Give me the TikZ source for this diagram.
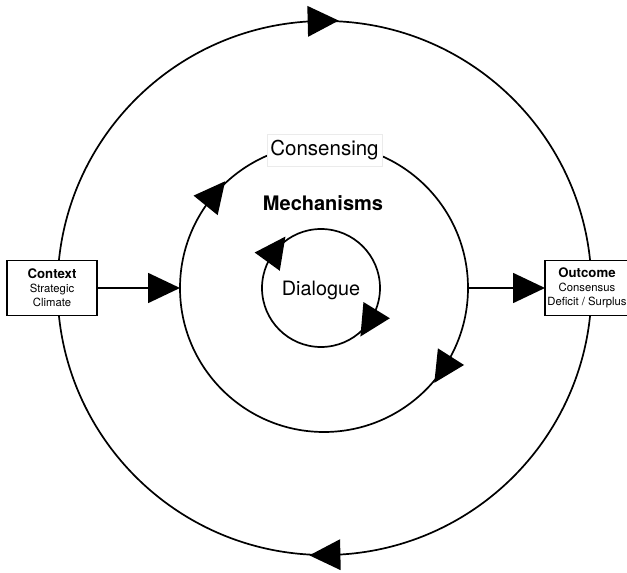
\documentclass[tikz,border=0pt]{standalone}
\usepackage{fontspec}
\setmainfont{TeX Gyre Heros}
\usetikzlibrary{arrows.meta}
% clockwise arrowhead sitting on a ring: #1 ring node, #2 radius, #3 angle
\newcommand\cwhead[3]{%
  \fill[shift={(#1.center)}, rotate=#3]
    (#2,-20.7) -- (#2+15.5,10.3) -- (#2-15.5,10.3) -- cycle;}
\begin{document}
\begin{tikzpicture}[x=1pt,y=1pt,
  ring/.style={circle, draw, line width=1.7pt, inner sep=0pt, outer sep=0pt},
  sidebox/.style={draw, line width=1.8pt, fill=white, minimum width=90pt,
    minimum height=55pt, inner sep=0pt, outer sep=0pt},
  boxtext/.style={align=center, inner sep=0pt,
    font=\fontsize{11.3}{13.8}\selectfont},
  flow/.style={line width=1.7pt, -{Triangle[length=32pt,width=30pt]}},
  biglabel/.style={font=\fontsize{20}{24}\selectfont, anchor=base}
]
\useasboundingbox (0,0) rectangle (627,573);
\clip (0,0) rectangle (627,573);

% three nested cycles
\node[ring, minimum size=534pt] (outer) at (324.5,285) {};
\node[ring, minimum size=288pt] (mid) at (324,285) {};
\node[ring, minimum size=118pt] (inner) at (321,285) {};

% direction marks, all clockwise
\cwhead{outer}{267}{91.4}
\cwhead{outer}{267}{271.2}
\cwhead{mid}{144}{141}
\cwhead{mid}{144}{-32.5}
\cwhead{inner}{59}{144}
\cwhead{inner}{59}{-31.6}

% input and output
\node[sidebox] (ctx) at (52,285) {};
\node[boxtext] (ctxtext) at (ctx.center)
  {{\bfseries\fontsize{13.2}{15}\selectfont Context}\\Strategic\\Climate};
\node[sidebox, minimum width=92pt] (out) at (591,285) {};
\node[boxtext] (outtext) at (587,285)
  {{\bfseries\fontsize{13.2}{15}\selectfont Outcome}\\Consensus\\Deficit / Surplus};
\draw[flow] (ctx.east) -- (mid.west);
\draw[flow] (mid.east) -- (out.west);

% labels
\node[draw=black!8, fill=white, minimum width=115pt, minimum height=32pt,
  inner sep=0pt, font=\fontsize{20.5}{24}\selectfont] (cons) at (324.5,422.5) {Consensing};
\node[biglabel, font=\bfseries\fontsize{20}{24}\selectfont] (mech) at (323,362) {Mechanisms};
\node[biglabel, font=\fontsize{19.8}{24}\selectfont] (dia) at (321,277) {Dialogue};
\end{tikzpicture}
\end{document}
